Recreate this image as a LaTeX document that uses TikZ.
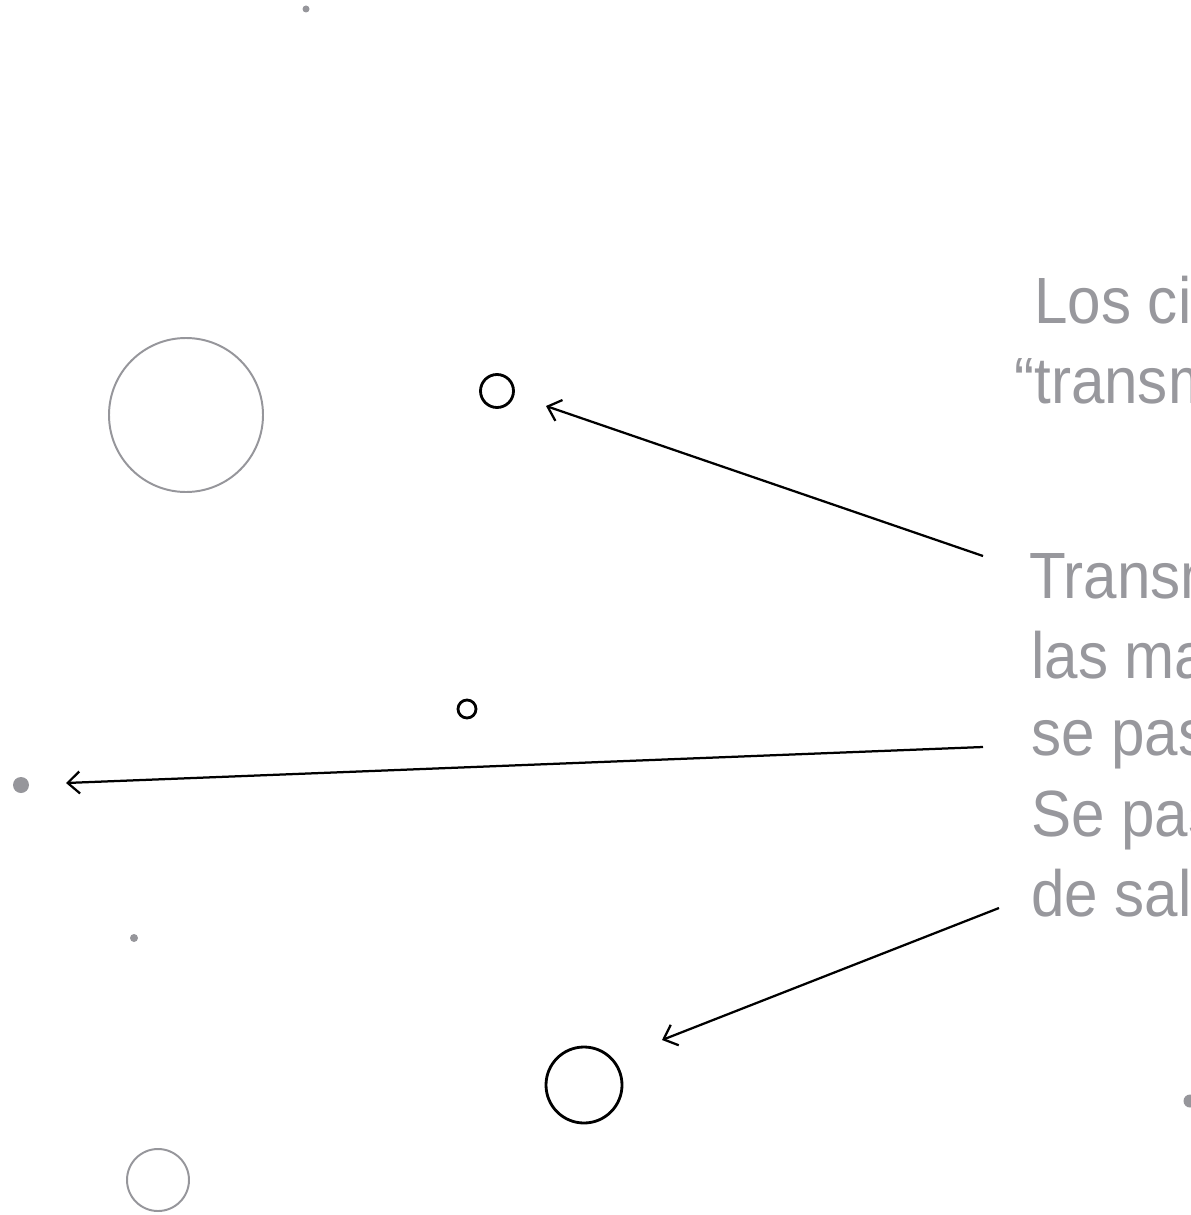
\documentclass[tikz,border=0pt]{standalone}
\usepackage{fontspec}
\setmainfont[FakeStretch=0.92]{Liberation Sans}
\usetikzlibrary{arrows.meta}
\definecolor{dotgray}{RGB}{150,150,155}
\definecolor{textgray}{RGB}{152,152,157}
\tikzset{
  ring/.style={draw=dotgray,line width=1.4pt},
  blackring/.style={draw=black,line width=2pt},
  pointer/.style={line width=1.6pt,-{Straight Barb[length=3mm,width=5.5mm,line width=1.6pt]}},
  caption/.style={text=textgray,anchor=base west,inner sep=0pt,font=\fontsize{46.5}{56}\selectfont}
}
\begin{document}
\begin{tikzpicture}[x=0.025cm,y=-0.025cm]
\useasboundingbox (0,0) rectangle (1190,1215);
% circles and dots
\fill[dotgray] (306,9) circle [radius=3.5];
\draw[ring] (186,415) circle [radius=77];
\draw[blackring] (497,391) circle [radius=16.5];
\draw[blackring] (467,709) circle [radius=9];
\fill[dotgray] (21,785) circle [radius=8];
\fill[dotgray] (134,938) circle [radius=4];
\draw[blackring] (584,1085) circle [radius=38];
\draw[ring] (158,1180) circle [radius=31];
\fill[dotgray] (1190,1101) circle [radius=6.5];
% texts
\node[caption] (ciclos) at (1034,323) {Los ciclos};
\node[caption] (transmiten) at (1014,403) {“transmiten”};
\node[caption] (linea1) at (1029,598) {Transmisión};
\node[caption] (linea2) at (1031,678) {las marcas};
\node[caption] (linea3) at (1031,755) {se pasan};
\node[caption] (linea4) at (1031,836) {Se pasan};
\node[caption] (linea5) at (1031,916) {de salida};
% arrows
\coordinate (fromA) at (983,556);
\coordinate (toA) at (546,406);
\coordinate (fromB) at (983,747);
\coordinate (toB) at (66,783);
\coordinate (fromC) at (999,908);
\coordinate (toC) at (662,1040);
\draw[pointer] (fromA) -- (toA);
\draw[pointer] (fromB) -- (toB);
\draw[pointer] (fromC) -- (toC);
\end{tikzpicture}
\end{document}
